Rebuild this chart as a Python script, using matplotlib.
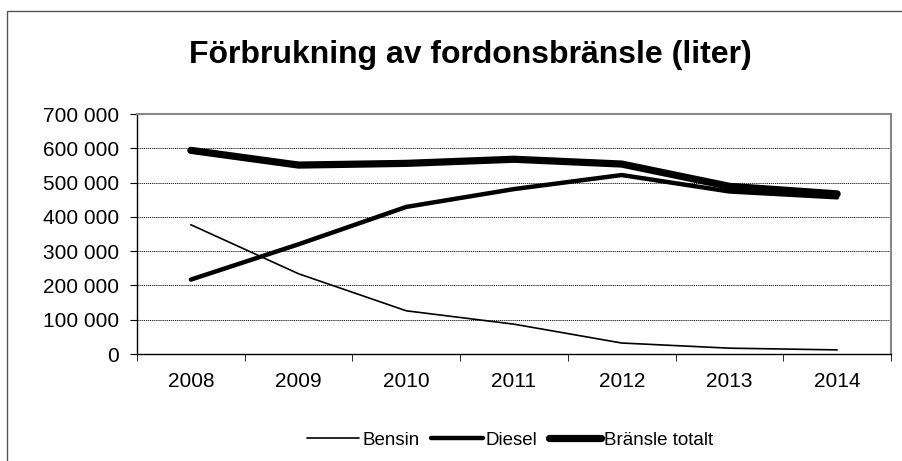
import matplotlib.pyplot as plt
from matplotlib.patches import Rectangle
from matplotlib.ticker import FuncFormatter, MultipleLocator
import numpy as np

plt.rcParams['font.family'] = ['Liberation Sans', 'DejaVu Sans']

# Data
years = ['2008', '2009', '2010', '2011', '2012', '2013', '2014']
bensin = [377000, 234000, 126000, 87000, 32000, 17000, 12000]
diesel = [217000, 320000, 429000, 481000, 522000, 474000, 457000]
totalt = [594000, 551000, 556000, 568000, 554000, 489000, 467000]

fig = plt.figure(figsize=(9.03, 4.61), dpi=100)
W, H = 903, 461

# Outer chart frame (partly off-image)
fig.patches.append(Rectangle((7 / W, -0.1), 1.2, 1.1 - 11 / H,
                             transform=fig.transFigure, fill=False,
                             edgecolor='#555555', lw=1.0))

ax = fig.add_axes([137 / W, 1 - 354 / H, (891 - 137) / W, (354 - 114) / H])

x = np.arange(len(years))
ax.plot(x, bensin, color='black', lw=1.2, solid_capstyle='round', label='Bensin')
ax.plot(x, diesel, color='black', lw=3.2, solid_capstyle='round', label='Diesel')
ax.plot(x, totalt, color='black', lw=5.2, solid_capstyle='round', label='Bränsle totalt')

ax.set_xlim(-0.5, len(years) - 0.5)
ax.set_ylim(0, 700000)
ax.yaxis.set_major_locator(MultipleLocator(100000))
ax.yaxis.set_major_formatter(FuncFormatter(lambda v, p: f'{int(v):,}'.replace(',', ' ')))
ax.set_xticks(x)
ax.set_xticklabels(years)
ax.set_xticks(np.arange(-0.5, len(years)), minor=True)
ax.tick_params(axis='x', which='major', length=0, labelsize=15, pad=13)
ax.tick_params(axis='x', which='minor', length=5, direction='out', color='black')
ax.tick_params(axis='y', length=5, direction='out', labelsize=15, pad=8)

ax.grid(axis='y', color='black', linestyle=(0, (1.5, 1.0)), lw=0.6)
ax.set_axisbelow(True)
for s in ['top', 'right']:
    ax.spines[s].set_color('#888888')
    ax.spines[s].set_linewidth(1.5)
for s in ['left', 'bottom']:
    ax.spines[s].set_color('black')
    ax.spines[s].set_linewidth(1.0)

fig.text(470 / W, 1 - 55 / H, 'Förbrukning av fordonsbränsle (liter)',
         ha='center', va='center', fontsize=23, fontweight='bold')

fig.legend(loc='center', bbox_to_anchor=(510 / W, 1 - 440 / H), ncol=3, frameon=False,
           fontsize=13.5, handlelength=2.8, handletextpad=0.15, columnspacing=0.6)

fig.savefig('out.png', dpi=100)
